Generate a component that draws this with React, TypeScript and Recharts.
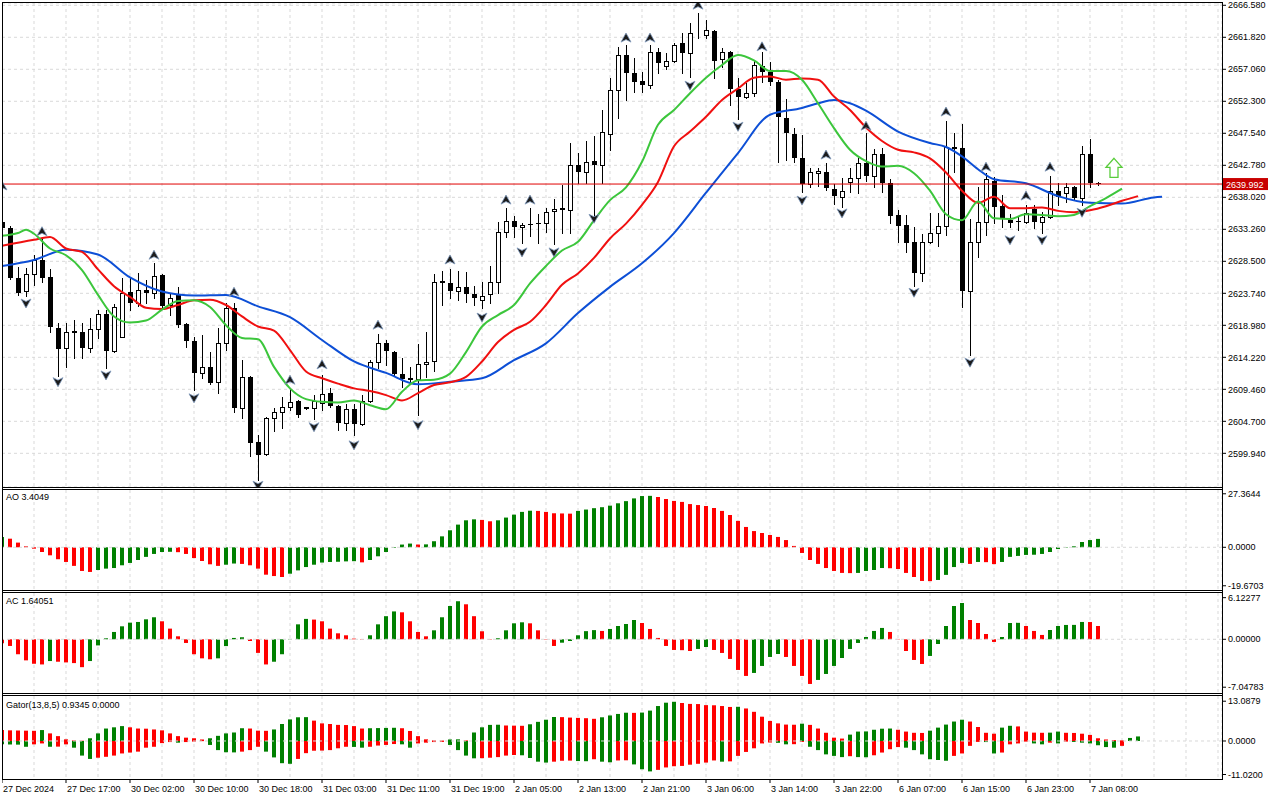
import React from 'react';
import { ComposedChart, Bar, Line, Scatter, XAxis, YAxis, ReferenceLine, CartesianGrid, Cell } from 'recharts';

const FONT = '"Liberation Sans", Arial, Helvetica, sans-serif';
const GRID = '#d9d9d9';
const UP = '#008000';
const DOWN = '#ff0000';
const X_DOMAIN: [number, number] = [0, 152.5];
const PRICE_DOMAIN: [number, number] = [2594.93, 2666.92];
const BID = 2639.992;

// time axis
const xTickIdx = [0, 8, 16, 24, 32, 40, 48, 56, 64, 72, 80, 88, 96, 104, 112, 120, 128, 136];
const xTickText = [
  '27 Dec 2024', '27 Dec 17:00', '30 Dec 02:00', '30 Dec 10:00', '30 Dec 18:00', '31 Dec 03:00',
  '31 Dec 11:00', '31 Dec 19:00', '2 Jan 05:00', '2 Jan 13:00', '2 Jan 21:00', '3 Jan 06:00',
  '3 Jan 14:00', '3 Jan 22:00', '6 Jan 07:00', '6 Jan 15:00', '6 Jan 23:00', '7 Jan 08:00',
];
const priceTicks = [
  2599.94, 2604.7, 2609.46, 2614.22, 2618.98, 2623.74, 2628.5, 2633.26,
  2638.02, 2642.78, 2647.54, 2652.3, 2657.06, 2661.82, 2666.58,
];

// H1 candles, bar 0 = 27 Dec 09:00
const open = [
  2634.4, 2633.5, 2626.0, 2624.1, 2626.6, 2628.7, 2626.2, 2618.6, 2615.6, 2618.1,
  2618.0, 2615.6, 2618.4, 2620.7, 2615.2, 2617.2, 2624.0, 2622.3, 2624.2, 2623.8,
  2626.5, 2622.0, 2623.5, 2619.2, 2616.6, 2611.9, 2612.8, 2610.5, 2616.3, 2621.6,
  2606.7, 2611.3, 2601.6, 2599.8, 2605.2, 2606.1, 2606.8, 2607.7, 2606.8, 2606.7,
  2607.4, 2608.9, 2607.0, 2604.4, 2606.5, 2604.3, 2607.7, 2613.5, 2616.3, 2615.0,
  2611.7, 2611.1, 2611.0, 2613.2, 2613.7, 2625.6, 2625.3, 2624.1, 2624.7, 2623.6,
  2622.7, 2623.6, 2625.4, 2632.9, 2634.5, 2633.6, 2634.0, 2634.2, 2634.2, 2636.0,
  2636.4, 2636.1, 2642.8, 2641.8, 2643.4, 2642.8, 2647.4, 2654.0, 2659.2, 2656.5,
  2655.3, 2654.7, 2659.6, 2657.6, 2658.3, 2661.0, 2659.5, 2662.4, 2662.2, 2662.8,
  2658.6, 2659.6, 2654.1, 2652.9, 2653.5, 2657.6, 2656.7, 2655.2, 2649.8, 2647.4,
  2643.9, 2640.0, 2641.7, 2641.8, 2639.3, 2638.1, 2640.3, 2640.9, 2643.1, 2641.2,
  2644.5, 2640.1, 2635.4, 2633.9, 2631.4, 2626.8, 2631.4, 2632.7, 2633.8, 2645.5,
  2645.3, 2624.1, 2631.4, 2634.4, 2640.4, 2636.7, 2634.6, 2634.5, 2634.4, 2636.3,
  2634.4, 2635.1, 2639.0, 2638.7, 2639.6, 2637.9, 2644.5, 2640.15,
];
const high = [
  2634.8, 2633.8, 2627.7, 2627.5, 2629.4, 2632.1, 2627.4, 2619.3, 2619.3, 2619.8,
  2619.3, 2620.1, 2621.3, 2621.3, 2622.1, 2626.0, 2626.0, 2626.8, 2625.7, 2628.2,
  2626.6, 2623.8, 2624.7, 2619.3, 2617.2, 2617.5, 2615.0, 2618.6, 2622.3, 2622.3,
  2613.8, 2611.4, 2602.7, 2605.3, 2606.7, 2608.3, 2609.5, 2607.9, 2606.9, 2608.6,
  2611.6, 2609.7, 2607.1, 2607.3, 2607.3, 2608.6, 2613.8, 2617.7, 2616.8, 2615.1,
  2614.1, 2612.8, 2616.2, 2618.0, 2626.6, 2627.1, 2627.4, 2627.1, 2626.9, 2624.8,
  2625.4, 2627.8, 2634.4, 2636.4, 2635.2, 2634.2, 2636.4, 2635.5, 2636.4, 2637.8,
  2639.9, 2646.1, 2644.6, 2646.4, 2647.1, 2651.0, 2655.8, 2660.4, 2660.7, 2658.7,
  2656.7, 2660.7, 2660.2, 2659.5, 2661.0, 2662.5, 2663.9, 2665.4, 2664.4, 2662.9,
  2660.2, 2659.8, 2655.8, 2655.0, 2658.4, 2659.6, 2658.1, 2655.5, 2652.6, 2648.3,
  2647.3, 2642.4, 2642.4, 2643.1, 2640.0, 2640.9, 2642.4, 2643.9, 2647.6, 2645.2,
  2645.4, 2640.7, 2636.1, 2635.4, 2633.6, 2632.6, 2635.7, 2635.7, 2649.4, 2647.6,
  2648.9, 2634.8, 2639.6, 2641.6, 2641.0, 2638.4, 2635.5, 2635.2, 2636.9, 2636.9,
  2635.8, 2641.2, 2640.1, 2640.1, 2639.7, 2645.7, 2646.7, 2640.3,
];
const low = [
  2632.9, 2625.9, 2623.5, 2623.3, 2625.0, 2625.4, 2618.0, 2611.4, 2612.8, 2614.1,
  2614.1, 2615.0, 2617.1, 2612.6, 2615.0, 2617.2, 2621.3, 2621.9, 2622.3, 2623.0,
  2621.7, 2620.5, 2618.7, 2615.8, 2609.4, 2611.1, 2610.2, 2608.9, 2615.3, 2606.1,
  2605.2, 2599.5, 2596.0, 2599.7, 2603.3, 2603.7, 2606.4, 2605.3, 2606.5, 2605.0,
  2606.4, 2606.8, 2603.4, 2603.4, 2602.7, 2604.1, 2607.6, 2612.6, 2613.1, 2611.6,
  2609.8, 2610.2, 2605.6, 2611.3, 2612.2, 2622.0, 2623.0, 2622.7, 2622.4, 2622.0,
  2621.6, 2622.3, 2623.8, 2632.1, 2632.1, 2631.2, 2632.3, 2631.2, 2632.9, 2631.1,
  2632.7, 2632.7, 2640.1, 2640.1, 2635.1, 2640.1, 2645.1, 2649.8, 2652.5, 2653.7,
  2653.7, 2654.3, 2656.5, 2657.1, 2658.2, 2656.5, 2655.9, 2661.7, 2661.7, 2655.8,
  2657.4, 2651.7, 2649.7, 2652.8, 2653.1, 2655.2, 2654.7, 2643.3, 2643.6, 2643.3,
  2638.8, 2639.6, 2639.7, 2639.1, 2637.0, 2636.6, 2638.8, 2638.7, 2640.4, 2639.6,
  2638.8, 2634.2, 2631.4, 2629.9, 2624.8, 2625.6, 2631.2, 2630.8, 2632.4, 2641.8,
  2621.7, 2614.6, 2629.1, 2632.4, 2634.2, 2633.6, 2633.6, 2633.2, 2634.2, 2633.5,
  2632.7, 2635.0, 2636.9, 2637.3, 2637.6, 2636.9, 2639.6, 2639.8,
];
const close = [
  2633.5, 2626.0, 2623.8, 2626.6, 2628.7, 2626.0, 2618.7, 2615.5, 2618.0, 2617.8,
  2615.6, 2618.4, 2620.7, 2615.2, 2621.7, 2623.8, 2622.3, 2624.2, 2623.8, 2626.3,
  2621.9, 2623.0, 2619.0, 2616.6, 2611.9, 2612.8, 2610.4, 2616.3, 2621.6, 2606.7,
  2611.3, 2601.5, 2599.7, 2605.2, 2606.1, 2606.8, 2607.6, 2605.6, 2606.6, 2607.7,
  2608.8, 2607.0, 2604.4, 2606.5, 2604.3, 2607.7, 2613.5, 2616.3, 2615.2, 2611.7,
  2611.0, 2610.8, 2613.2, 2613.5, 2625.4, 2625.3, 2624.1, 2624.7, 2623.6, 2623.0,
  2623.3, 2625.4, 2632.9, 2634.5, 2633.6, 2633.9, 2633.9, 2634.0, 2635.8, 2636.3,
  2636.1, 2642.8, 2641.8, 2643.3, 2642.8, 2647.7, 2654.0, 2659.2, 2656.5, 2655.2,
  2654.7, 2659.6, 2658.0, 2658.3, 2660.7, 2659.5, 2662.5, 2662.5, 2662.9, 2658.3,
  2659.6, 2654.1, 2652.9, 2653.5, 2657.7, 2656.7, 2655.2, 2650.0, 2647.6, 2643.9,
  2640.0, 2641.8, 2641.9, 2639.4, 2638.2, 2639.0, 2640.9, 2643.1, 2641.2, 2644.5,
  2640.1, 2635.2, 2633.7, 2631.2, 2626.8, 2631.4, 2632.7, 2633.8, 2645.5, 2645.2,
  2624.1, 2631.4, 2634.4, 2640.7, 2636.6, 2635.0, 2634.2, 2634.4, 2635.7, 2634.4,
  2635.1, 2639.0, 2638.1, 2639.6, 2637.9, 2644.5, 2640.1, 2639.992,
];

// Alligator lines (already shifted forward)
const jawIdx = [
  0, 4, 8, 12, 16, 20, 24, 28, 32, 36, 40, 44, 48, 52, 56, 60, 64, 68, 72, 76, 80,
  84, 88, 92, 96, 100, 102, 104, 106, 108, 112, 116, 118, 120, 122, 124, 128, 132,
  136, 140, 144, 145,
];
const jawVal = [
  2627.8, 2628.7, 2630.2, 2629.5, 2626.1, 2624.0, 2623.4, 2623.5, 2621.8, 2620.2, 2616.8,
  2613.6, 2611.9, 2610.2, 2610.6, 2611.1, 2613.8, 2616.3, 2620.8, 2624.7, 2628.2,
  2632.7, 2638.7, 2644.6, 2650.3, 2651.3, 2652.0, 2652.5, 2652.0, 2650.9, 2647.8,
  2646.1, 2645.5, 2644.1, 2642.2, 2640.7, 2640.1, 2638.2, 2637.2, 2637.1, 2638.0, 2638.1,
];
const teethIdx = [
  0, 4, 6, 8, 10, 12, 14, 16, 18, 20, 22, 24, 26, 28, 30, 32, 34, 36, 38, 40,
  42, 44, 46, 48, 50, 52, 54, 56, 58, 60, 62, 64, 66, 68, 70, 72, 74, 76, 78, 80,
  82, 84, 86, 88, 90, 92, 94, 96, 98, 100, 102, 104, 106, 108, 110, 112, 114, 116, 118, 120,
  122, 124, 126, 128, 130, 132, 134, 136, 138, 140, 142,
];
const teethVal = [
  2630.8, 2631.7, 2632.1, 2630.4, 2629.9, 2627.3, 2624.8, 2623.2, 2621.6, 2621.4,
  2622.0, 2622.7, 2622.8, 2622.0, 2620.3, 2618.8, 2618.2, 2615.3, 2612.1, 2611.1,
  2610.3, 2609.6, 2609.2, 2608.6, 2607.8, 2608.9, 2610.1, 2610.5, 2611.3, 2613.6,
  2616.5, 2618.3, 2619.5, 2622.0, 2625.0, 2626.7, 2629.0, 2631.9, 2634.1, 2636.9,
  2640.3, 2645.6, 2647.8, 2650.0, 2652.5, 2654.2, 2655.8, 2656.0, 2655.5, 2655.7,
  2655.5, 2653.0, 2651.0, 2648.4, 2646.4, 2645.1, 2644.7, 2643.8, 2641.7, 2639.0,
  2637.2, 2638.1, 2636.4, 2636.4, 2636.5, 2636.0, 2635.8, 2636.1, 2636.7, 2637.5, 2638.2,
];
const lipsIdx = [
  0, 2, 3, 4, 6, 8, 10, 12, 14, 16, 18, 20, 22, 24, 26, 28, 30, 32, 34, 36,
  38, 40, 42, 44, 46, 48, 50, 52, 54, 56, 58, 60, 62, 64, 66, 68, 70, 72, 74, 76,
  78, 80, 82, 84, 86, 88, 90, 92, 94, 96, 98, 100, 102, 104, 106, 108, 110, 112, 114, 116,
  118, 120, 122, 124, 126, 128, 130, 132, 134, 136, 138, 140,
];
const lipsVal = [
  2632.3, 2632.7, 2633.2, 2632.6, 2630.4, 2629.4, 2627.2, 2623.5, 2620.3, 2619.4,
  2619.7, 2621.3, 2622.6, 2622.7, 2621.7, 2619.0, 2617.1, 2616.9, 2612.8, 2609.6,
  2608.0, 2607.6, 2607.5, 2607.8, 2607.1, 2606.5, 2609.1, 2610.8, 2610.9, 2611.8,
  2615.0, 2618.8, 2620.5, 2622.0, 2625.2, 2627.8, 2630.1, 2631.4, 2634.6, 2637.6,
  2639.5, 2643.3, 2648.8, 2651.0, 2653.5, 2655.8, 2657.7, 2659.2, 2658.4, 2656.8,
  2656.8, 2655.5, 2652.0, 2648.3, 2645.1, 2643.4, 2642.6, 2642.7, 2641.6, 2639.0,
  2635.5, 2634.6, 2637.4, 2634.9, 2634.8, 2635.5, 2635.4, 2635.2, 2635.4, 2636.7,
  2637.9, 2639.3,
];

// Fractals
const fractalUpIdx = [0, 5, 19, 29, 36, 40, 47, 56, 63, 66, 78, 81, 87, 95, 103, 108, 118, 123, 128, 131];
const fractalUpPrice = [
  2639.7, 2632.9, 2629.4, 2623.9, 2610.8, 2613.1, 2619.0, 2628.7, 2637.6, 2637.6,
  2661.7, 2661.7, 2666.6, 2660.4, 2644.3, 2648.6, 2650.7, 2642.5, 2638.2, 2642.5,
];
const fractalDnIdx = [3, 7, 13, 24, 32, 39, 44, 52, 60, 65, 69, 74, 86, 92, 100, 105, 114, 121, 126, 130, 135];
const fractalDnPrice = [
  2622.3, 2610.6, 2611.6, 2608.2, 2595.2, 2603.9, 2601.2, 2604.2, 2620.2, 2629.9,
  2629.9, 2634.9, 2654.7, 2648.6, 2637.6, 2635.7, 2623.9, 2613.5, 2631.7, 2631.7, 2635.8,
];
const signalIdx = [139];
const signalPrice = [2642.4];

// Awesome Oscillator
const ao = [
  5.3, 4.4, 2.4, 0.5, -0.7, -2.4, -4.1, -6.1, -7.5, -9.5,
  -12.1, -12.6, -11.6, -10.9, -10.6, -9.2, -8.0, -6.5, -4.9, -3.4,
  -2.4, -2.3, -2.5, -3.4, -5.5, -7.0, -8.7, -9.5, -8.9, -8.3,
  -8.5, -9.2, -10.9, -14.0, -14.7, -15.2, -13.5, -11.8, -10.1, -8.9,
  -7.8, -7.5, -7.4, -7.2, -7.1, -7.7, -6.5, -4.6, -2.4, -0.3,
  1.4, 1.9, 1.4, 1.5, 3.1, 5.6, 8.7, 11.6, 13.8, 14.3,
  14.0, 13.3, 13.8, 15.2, 16.7, 18.1, 18.7, 18.6, 18.1, 17.4,
  17.3, 17.2, 18.6, 19.3, 20.0, 20.5, 21.3, 22.5, 23.6, 25.0,
  26.2, 26.3, 25.7, 24.7, 23.7, 23.2, 22.1, 21.6, 21.1, 20.1,
  18.6, 16.5, 13.5, 10.4, 8.3, 7.3, 6.3, 5.3, 3.7, 0.7,
  -2.9, -6.5, -8.5, -10.6, -12.1, -13.1, -13.2, -13.1, -12.1, -11.6,
  -10.6, -10.7, -11.1, -13.1, -15.2, -17.2, -17.3, -16.7, -14.1, -10.1,
  -8.0, -8.5, -7.5, -7.6, -8.6, -7.5, -4.9, -4.4, -3.9, -3.8,
  -3.4, -2.4, -0.9, -0.2, 0.5, 2.7, 3.7, 4.3,
];

// Accelerator Oscillator
const ac = [
  -0.6, -0.98, -2.2, -3.1, -3.6, -3.7, -3.2, -3.3, -3.4, -3.5,
  -4.1, -3.2, -0.9, 0.15, 1.08, 1.91, 2.45, 2.55, 2.94, 3.24,
  2.65, 1.57, 0.44, -0.54, -2.2, -2.8, -2.94, -2.8, -1.0, 0.2,
  0.3, -0.25, -2.0, -3.7, -3.3, -2.2, 0.05, 2.2, 3.0, 2.9,
  2.65, 1.57, 0.88, 0.59, 0.1, -0.05, 0.59, 2.2, 3.4, 4.1,
  3.97, 2.65, 1.08, 0.44, 1.32, 3.24, 4.9, 5.6, 5.15, 3.4,
  1.18, -0.05, 0.15, 1.32, 2.35, 2.5, 2.35, 1.32, -0.05, -0.98,
  -0.5, -0.25, 0.59, 1.2, 1.35, 1.23, 1.52, 1.96, 2.25, 2.84,
  2.4, 1.52, 0.2, -0.98, -1.57, -1.6, -1.72, -1.42, -1.13, -1.57,
  -2.01, -2.89, -4.51, -5.39, -4.95, -3.92, -2.6, -2.16, -2.6, -3.92,
  -5.39, -6.57, -5.98, -5.1, -3.92, -2.75, -1.42, -0.54, 0.34, 1.23,
  1.67, 1.08, 0.05, -1.72, -3.04, -3.63, -2.45, -0.69, 1.96, 4.9,
  5.34, 2.84, 2.4, 0.78, -0.39, 0.34, 2.4, 2.42, 1.96, 1.23,
  0.64, 1.37, 1.96, 2.11, 2.12, 2.55, 2.54, 1.96,
];

// Gator Oscillator (upper / lower histograms)
const gatorUp = [
  3.6, 3.5, 3.45, 3.4, 3.35, 3.6, 2.5, 1.6, 0.55, 0.2,
  0.1, 0.9, 2.5, 4.1, 4.5, 4.9, 4.5, 4.1, 4.05, 3.8,
  3.5, 2.5, 1.6, 1.1, 0.9, 0.5, 0.9, 1.7, 2.5, 2.8,
  4.2, 4.1, 3.4, 3.35, 3.8, 5.6, 7.1, 7.8, 7.85, 6.7,
  5.8, 5.6, 5.3, 5.25, 4.9, 4.1, 4.2, 4.25, 4.3, 4.35,
  4.2, 3.3, 1.6, 0.55, 0.2, 0.15, 0.5, 0.55, 0.2, 2.8,
  4.5, 5.3, 5.35, 5.1, 5.05, 5.0, 5.5, 6.3, 7.0, 7.9,
  7.85, 7.7, 7.6, 7.5, 7.3, 7.8, 8.4, 8.9, 9.3, 9.25,
  9.35, 10.0, 11.5, 12.6, 12.9, 12.5, 12.2, 12.15, 11.8, 11.75,
  11.5, 11.2, 11.25, 10.7, 9.6, 8.0, 6.6, 5.8, 5.4, 5.35,
  5.7, 5.3, 4.1, 2.7, 1.1, 0.8, 2.1, 3.1, 3.15, 3.7,
  4.05, 4.1, 3.7, 3.1, 2.7, 2.65, 3.4, 4.4, 5.4, 6.4,
  7.0, 6.4, 4.6, 2.7, 2.4, 4.4, 5.0, 4.8, 3.1, 2.75,
  2.7, 2.75, 3.1, 2.7, 2.65, 2.4, 2.0, 0.9, 0.5, 0.3,
  0.2, 1.0, 1.5,
];
const gatorDn = [
  -1.1, -1.15, -1.2, -1.9, -1.1, -0.8, -1.9, -1.85, -1.1, -2.2,
  -4.8, -5.9, -5.5, -5.2, -4.8, -4.1, -3.8, -3.5, -2.2, -1.9,
  -0.7, -0.35, -0.55, -0.35, -0.2, -0.05, -1.3, -3.0, -3.7, -3.75,
  -3.5, -3.0, -1.9, -3.5, -5.4, -7.3, -7.5, -5.9, -4.0, -3.2,
  -3.15, -3.0, -2.4, -1.9, -1.95, -2.2, -1.9, -1.5, -1.3, -1.0,
  -1.1, -2.2, -0.8, -0.55, -0.35, -0.3, -1.3, -3.0, -4.8, -5.7,
  -5.65, -5.5, -5.3, -4.8, -4.6, -4.7, -5.6, -6.8, -7.1, -6.8,
  -6.5, -6.45, -6.6, -6.65, -6.0, -6.8, -7.0, -6.4, -6.35, -7.7,
  -9.3, -10.0, -9.5, -8.7, -8.3, -8.2, -7.8, -7.5, -7.1, -6.4,
  -6.8, -6.7, -4.9, -3.6, -2.4, -0.8, -0.5, -0.6, -1.1, -1.05,
  -0.3, -1.9, -3.0, -4.4, -4.9, -5.3, -5.0, -5.3, -5.35, -4.7,
  -3.8, -2.7, -2.0, -2.2, -3.0, -4.4, -6.0, -6.25, -6.5, -4.9,
  -4.1, -1.6, -0.3, -0.35, -4.1, -3.8, -1.1, -0.8, -0.2, -0.8,
  -1.1, -0.55, -0.8, -0.2, -0.3, -0.55, -0.8, -1.4, -2.0, -2.2,
  -1.6,
];

// ---- derived tables for recharts ----
const candleData = open.map((o, i) => ({ x: i, o, h: high[i], l: low[i], c: close[i], range: [low[i], high[i]] }));
const toLine = (idx: number[], val: number[]) => idx.map((x, k) => ({ x, v: val[k] }));
const jawData = toLine(jawIdx, jawVal);
const teethData = toLine(teethIdx, teethVal);
const lipsData = toLine(lipsIdx, lipsVal);
const upFractals = fractalUpIdx.map((x, k) => ({ x, y: fractalUpPrice[k] }));
const dnFractals = fractalDnIdx.map((x, k) => ({ x, y: fractalDnPrice[k] }));
const signalData = signalIdx.map((x, k) => ({ x, y: signalPrice[k] }));
const aoData = ao.map((v, i) => ({ x: i, v }));
const acData = ac.map((v, i) => ({ x: i, v }));
const gatorData = gatorUp.map((v, i) => ({ x: i, up: v, dn: gatorDn[i] }));

// vertical grid every 4 bars
const gridX = Array.from({ length: 38 }, (_, k) => 4 * (k + 1));

const risingColor = (arr: number[], i: number, first: string) =>
  i === 0 ? first : arr[i] > arr[i - 1] ? UP : DOWN;
const dnColor = (i: number) => {
  if (i === 0 || i >= gatorDn.length) return UP;
  return Math.abs(gatorDn[i]) > Math.abs(gatorDn[i - 1]) ? UP : DOWN;
};

function Candle(props: any) {
  const { x, y, width, height, payload } = props;
  if (x == null || !payload) return null;
  const top = Math.min(y, y + height);
  const bot = Math.max(y, y + height);
  const { o, h, l, c } = payload;
  const span = h - l || 1;
  const py = (v: number) => top + ((h - v) / span) * (bot - top);
  const cx = Math.round(x + width / 2);
  const bTop = Math.round(py(Math.max(o, c)));
  const bBot = Math.round(py(Math.min(o, c)));
  const bull = c >= o;
  return (
    <g>
      <line x1={cx + 0.5} x2={cx + 0.5} y1={Math.round(top)} y2={Math.round(bot) + 1} stroke="#000" strokeWidth={1} />
      {bull ? (
        <rect x={cx - 1.5} y={bTop + 0.5} width={4} height={Math.max(bBot - bTop, 0)} fill="#fff" stroke="#000" strokeWidth={1} />
      ) : (
        <rect x={cx - 2} y={bTop} width={5} height={Math.max(bBot - bTop, 1)} fill="#000" />
      )}
    </g>
  );
}

const FractalUp = (p: any) => (
  <path
    d={`M${p.cx},${p.cy - 5} L${p.cx + 5},${p.cy + 4} L${p.cx},${p.cy + 1.5} L${p.cx - 5},${p.cy + 4} Z`}
    fill="#1b1b1b"
    stroke="#7d98bb"
    strokeWidth={0.8}
  />
);
const FractalDown = (p: any) => (
  <path
    d={`M${p.cx},${p.cy + 5} L${p.cx + 5},${p.cy - 4} L${p.cx},${p.cy - 1.5} L${p.cx - 5},${p.cy - 4} Z`}
    fill="#1b1b1b"
    stroke="#7d98bb"
    strokeWidth={0.8}
  />
);
const SignalArrow = (p: any) => {
  const { cx, cy } = p;
  const t = cy - 9.5, m = cy - 0.5, b = cy + 9.5;
  return (
    <path
      d={`M${cx},${t} L${cx + 8},${m} L${cx + 4},${m} L${cx + 4},${b} L${cx - 4},${b} L${cx - 4},${m} L${cx - 8},${m} Z`}
      fill="#fff"
      stroke="#58cc3a"
      strokeWidth={1.3}
    />
  );
};

const BidTag = (props: any) => {
  const vb = props.viewBox;
  if (!vb) return null;
  const x = vb.x + vb.width + 1;
  const y = vb.y;
  return (
    <g>
      <rect x={x} y={y - 6} width={45} height={12} fill="#c80000" />
      <text x={x + 3} y={y + 3.5} fill="#fff" fontSize={9} fontFamily={FONT}>
        {BID.toFixed(3)}
      </text>
    </g>
  );
};

const XTick = (props: any) => {
  const { x, y, payload } = props;
  const k = xTickIdx.indexOf(payload.value);
  return (
    <text x={x + 1} y={y + 7} fontSize={9} fontFamily={FONT} fill="#000">
      {k >= 0 ? xTickText[k] : ''}
    </text>
  );
};

const yTick = { fontSize: 9, fill: '#000', fontFamily: FONT };

function MainPanel() {
  return (
    <ComposedChart width={1280} height={487} data={candleData} margin={{ top: 3, right: 0, bottom: 0, left: 2 }}>
      <XAxis xAxisId={0} type="number" dataKey="x" domain={X_DOMAIN} hide allowDataOverflow />
      <XAxis xAxisId="l" type="number" dataKey="x" domain={X_DOMAIN} ticks={gridX} interval={0} hide allowDataOverflow />
      <YAxis
        orientation="right"
        width={58}
        domain={PRICE_DOMAIN}
        ticks={priceTicks}
        interval={0}
        allowDataOverflow
        tickFormatter={(v: number) => v.toFixed(3)}
        tick={yTick}
        tickSize={4}
        tickLine={{ stroke: '#000' }}
        axisLine={false}
      />
      <CartesianGrid xAxisId="l" stroke={GRID} strokeDasharray="3 3" />
      <Bar dataKey="range" barSize={5} shape={<Candle />} isAnimationActive={false} />
      <Line xAxisId="l" data={jawData} dataKey="v" type="monotone" stroke="#0d4fd6" strokeWidth={2} dot={false} activeDot={false} isAnimationActive={false} />
      <Line xAxisId="l" data={teethData} dataKey="v" type="monotone" stroke="#f01010" strokeWidth={2} dot={false} activeDot={false} isAnimationActive={false} />
      <Line xAxisId="l" data={lipsData} dataKey="v" type="monotone" stroke="#3cc63c" strokeWidth={2} dot={false} activeDot={false} isAnimationActive={false} />
      <Scatter xAxisId="l" data={upFractals} dataKey="y" shape={FractalUp} isAnimationActive={false} />
      <Scatter xAxisId="l" data={dnFractals} dataKey="y" shape={FractalDown} isAnimationActive={false} />
      <Scatter xAxisId="l" data={signalData} dataKey="y" shape={SignalArrow} isAnimationActive={false} />
      <ReferenceLine y={BID} stroke="#e00000" strokeWidth={1} label={(p: any) => <BidTag viewBox={p.viewBox} />} />
    </ComposedChart>
  );
}

function HistPanel({ data, colors, domain, ticks, digits, height }: any) {
  return (
    <ComposedChart width={1280} height={height} data={data} margin={{ top: 0, right: 0, bottom: 0, left: 2 }}>
      <XAxis type="number" dataKey="x" domain={X_DOMAIN} hide allowDataOverflow />
      <XAxis xAxisId="g" type="number" dataKey="x" domain={X_DOMAIN} ticks={gridX} interval={0} hide allowDataOverflow />
      <YAxis
        orientation="right"
        width={58}
        domain={domain}
        ticks={ticks}
        interval={0}
        allowDataOverflow
        tickFormatter={(v: number) => v.toFixed(digits)}
        tick={yTick}
        tickSize={4}
        tickLine={{ stroke: '#000' }}
        axisLine={false}
      />
      <CartesianGrid xAxisId="g" horizontal={false} stroke={GRID} strokeDasharray="3 3" />
      <Bar dataKey="v" barSize={4} isAnimationActive={false}>
        {data.map((_: any, i: number) => (
          <Cell key={i} fill={colors[i]} />
        ))}
      </Bar>
      <ReferenceLine y={0} stroke={GRID} strokeDasharray="3 3" />
    </ComposedChart>
  );
}

function GatorPanel() {
  return (
    <ComposedChart width={1280} height={104} data={gatorData} stackOffset="sign" margin={{ top: 0, right: 0, bottom: 0, left: 2 }}>
      <XAxis
        type="number"
        dataKey="x"
        domain={X_DOMAIN}
        allowDataOverflow
        ticks={xTickIdx}
        interval={0}
        height={21}
        tick={<XTick />}
        tickSize={4}
        tickLine={{ stroke: '#000' }}
        axisLine={false}
      />
      <XAxis xAxisId="g" type="number" dataKey="x" domain={X_DOMAIN} ticks={gridX} interval={0} hide allowDataOverflow />
      <YAxis
        orientation="right"
        width={58}
        domain={[-12.5, 14.8]}
        ticks={[-11.02, 0, 13.0879]}
        interval={0}
        allowDataOverflow
        tickFormatter={(v: number) => v.toFixed(4)}
        tick={yTick}
        tickSize={4}
        tickLine={{ stroke: '#000' }}
        axisLine={false}
      />
      <CartesianGrid xAxisId="g" horizontal={false} stroke={GRID} strokeDasharray="3 3" />
      <Bar dataKey="up" stackId="g" barSize={4} isAnimationActive={false}>
        {gatorData.map((_, i) => (
          <Cell key={i} fill={risingColor(gatorUp, i, DOWN)} />
        ))}
      </Bar>
      <Bar dataKey="dn" stackId="g" barSize={4} isAnimationActive={false}>
        {gatorData.map((_, i) => (
          <Cell key={i} fill={dnColor(i)} />
        ))}
      </Bar>
      <ReferenceLine y={0} stroke={GRID} strokeDasharray="3 3" />
    </ComposedChart>
  );
}

const hLines = [2, 487, 489, 590, 592, 693, 695, 779];

const label = (text: string, top: number) => (
  <div
    style={{
      position: 'absolute',
      left: 6,
      top,
      fontFamily: FONT,
      fontSize: 9,
      lineHeight: '10px',
      color: '#000',
      whiteSpace: 'nowrap',
    }}
  >
    {text}
  </div>
);

export default function App() {
  const aoColors = ao.map((_, i) => risingColor(ao, i, UP));
  const acColors = ac.map((_, i) => risingColor(ac, i, DOWN));
  return (
    <div style={{ position: 'relative', width: 1280, height: 800, background: '#fff', overflow: 'hidden' }}>
      <style>{`body{margin:0;background:#fff}.recharts-surface{overflow:visible}`}</style>
      <div style={{ position: 'absolute', left: 0, top: 0 }}>
        <MainPanel />
      </div>
      <div style={{ position: 'absolute', left: 0, top: 490, background: '#fff' }}>
        <HistPanel data={aoData} colors={aoColors} domain={[-21.83, 29.29]} ticks={[-19.6703, 0, 27.3644]} digits={4} height={100} />
      </div>
      <div style={{ position: 'absolute', left: 0, top: 593, background: '#fff' }}>
        <HistPanel data={acData} colors={acColors} domain={[-7.9, 6.81]} ticks={[-7.04783, 0, 6.12277]} digits={5} height={100} />
      </div>
      <div style={{ position: 'absolute', left: 0, top: 696, background: '#fff' }}>
        <GatorPanel />
      </div>
      <div style={{ position: 'absolute', left: 0, top: 0, width: 2, height: 800, background: '#fff' }} />
      {hLines.map((t) => (
        <div key={t} style={{ position: 'absolute', left: 2, top: t, width: 1221, height: 1, background: '#000' }} />
      ))}
      <div style={{ position: 'absolute', left: 2, top: 2, width: 1, height: 778, background: '#000' }} />
      <div style={{ position: 'absolute', left: 1222, top: 2, width: 1, height: 778, background: '#000' }} />
      {label('AO 3.4049', 492)}
      {label('AC 1.64051', 596)}
      {label('Gator(13,8,5) 0.9345 0.0000', 700)}
    </div>
  );
}
